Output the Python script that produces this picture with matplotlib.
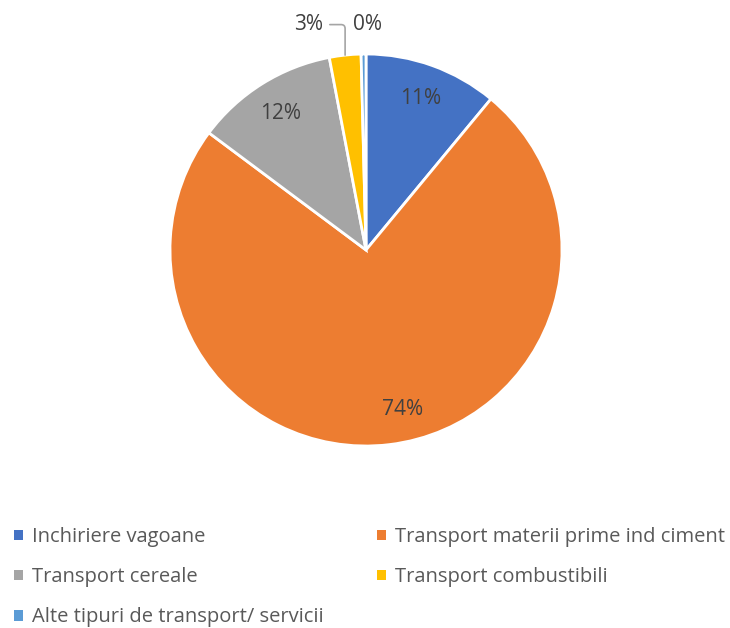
import matplotlib.pyplot as plt
import numpy as np

plt.rcParams['font.family'] = ['Open Sans', 'DejaVu Sans']

labels = ['Inchiriere vagoane', 'Transport materii prime ind ciment',
          'Transport cereale', 'Transport combustibili',
          'Alte tipuri de transport/ servicii']
values = [11.0, 74.2, 11.8, 2.6, 0.4]
colors = ['#4472C4', '#ED7D31', '#A5A5A5', '#FFC000', '#5B9BD5']

W, H = 730, 628
fig = plt.figure(figsize=(W / 100, H / 100), dpi=100)
cx, cy, r = 366, 250, 196
ax = fig.add_axes([(cx - r) / W, (H - cy - r) / H, 2 * r / W, 2 * r / H])

wedges, _ = ax.pie(values, colors=colors, startangle=90, counterclock=False,
                   radius=1, wedgeprops=dict(edgecolor='white', linewidth=2))
ax.set_xlim(-1, 1)
ax.set_ylim(-1, 1)
ax.set_aspect('equal')
ax.axis('off')

txt_col = '#404040'
total = sum(values)
# small nudges for the inside labels (axes units)
nudge = {0: (0, 0), 1: (0.09, 0), 2: (0, 0)}
for i, (w, v) in enumerate(zip(wedges, values)):
    mid = np.deg2rad((w.theta1 + w.theta2) / 2)
    pct = '%d%%' % round(v / total * 100)
    if i < 3:
        dx, dy = nudge[i]
        ax.text(0.82 * np.cos(mid) + dx, 0.82 * np.sin(mid) + dy, pct,
                ha='center', va='center', fontsize=15, color=txt_col)
    elif i == 3:
        ax.annotate(pct, xy=(1.0 * np.cos(mid), 1.0 * np.sin(mid)),
                    xytext=(-0.22, 1.15), ha='right', va='center', fontsize=15,
                    color=txt_col,
                    arrowprops=dict(arrowstyle='-', color='#A5A5A5', lw=1.2,
                                    shrinkA=3, shrinkB=0,
                                    connectionstyle='angle,angleA=0,angleB=90,rad=4'))
    else:
        ax.text(0.01, 1.15, pct, ha='center', va='center', fontsize=15, color=txt_col)

order = [0, 2, 4, 1, 3]
leg = fig.legend([wedges[i] for i in order], [labels[i] for i in order],
                 ncol=2, loc='upper left', bbox_to_anchor=(0.0, 1 - 513 / H),
                 frameon=False, fontsize=14.5, handlelength=0.45, handleheight=0.45,
                 handletextpad=0.45, columnspacing=2.65, labelspacing=1.0,
                 borderpad=0.2, labelcolor='#595959')
for h in leg.legend_handles:
    h.set_edgecolor('none')

fig.savefig('out.png', dpi=100)
